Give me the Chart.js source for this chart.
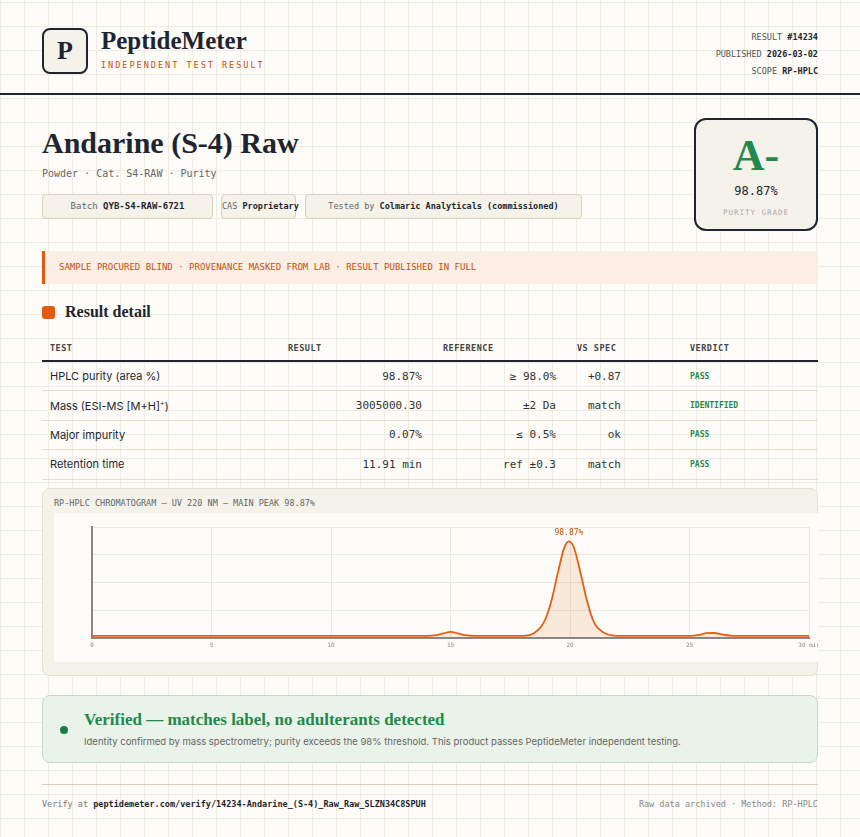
<!DOCTYPE html>
<html><head><meta charset="utf-8">
<script src="https://cdn.jsdelivr.net/npm/chart.js@4.4.1/dist/chart.umd.min.js"></script>
<style>
*{box-sizing:border-box;margin:0;padding:0}
body{width:860px;height:837px;overflow:hidden;background:#fdfcf8;position:relative;font-family:Inter,sans-serif;color:#1e2530;
background-image:linear-gradient(#efece4 1px,transparent 1px),linear-gradient(90deg,#efece4 1px,transparent 1px);background-size:24px 24px;background-position:0 2px}
.abs{position:absolute}
.mono{font-family:"DejaVu Sans Mono","Liberation Mono",monospace}
.serif{font-family:"Liberation Serif","DejaVu Serif",serif}
.logo{left:42px;top:28px;width:46px;height:46px;border:2px solid #1e2530;border-radius:8px;background:#f5f2ea;font-size:26px;font-weight:bold;text-align:center;line-height:42px}
.chip{top:194px;height:25px;border:1px solid #d9d0bd;border-radius:4px;background:#f5f2ea;font-size:9px;line-height:23px;color:#666;text-align:center;white-space:nowrap}
.chip b{color:#1e2530}
table{border-collapse:collapse;table-layout:fixed}
td,th{height:29.5px;border-bottom:1px solid #e4ddcc;font-size:11px}
th{font-family:"DejaVu Sans Mono",monospace;font-size:8.5px;color:#444;text-align:left;height:26px;border-bottom:2px solid #1e2530;letter-spacing:.5px}
td.n{text-align:right;font-family:"DejaVu Sans Mono",monospace;font-size:11px;color:#333;padding-right:6px}
td.v{font-family:"DejaVu Sans Mono",monospace;font-size:8px;font-weight:bold;color:#1f8a4c;padding-left:6px}
</style></head><body>
<div class="abs logo serif">P</div>
<div class="abs serif" style="left:101px;top:27px;font-size:25px;font-weight:bold">PeptideMeter</div>
<div class="abs mono" style="left:101px;top:60px;font-size:8.5px;letter-spacing:2px;color:#c2500e">INDEPENDENT TEST RESULT</div>
<div class="abs mono" style="right:42px;top:29px;font-size:8.5px;color:#555;text-align:right;line-height:17px">RESULT <b style="color:#1e2530">#14234</b><br>PUBLISHED <b style="color:#1e2530">2026-03-02</b><br>SCOPE <b style="color:#1e2530">RP-HPLC</b></div>
<div class="abs" style="left:0;top:93px;width:860px;height:2px;background:#1e2530"></div>

<div class="abs serif" style="left:42px;top:126px;font-size:30px;font-weight:bold">Andarine (S-4) Raw</div>
<div class="abs mono" style="left:42px;top:168px;font-size:10px;color:#666">Powder · Cat. S4-RAW · Purity</div>
<div class="abs chip mono" style="left:42px;width:171px">Batch <b>QYB-S4-RAW-6721</b></div>
<div class="abs chip mono" style="left:221px;width:75px;font-size:8.5px">CAS <b>Proprietary</b></div>
<div class="abs chip mono" style="left:305px;width:277px;font-size:8.5px">Tested by <b>Colmaric Analyticals (commissioned)</b></div>

<div class="abs" style="left:694px;top:118px;width:124px;height:113px;border:2px solid #1e2530;border-radius:12px;background:#f5f2ea;text-align:center">
 <div class="serif" style="font-size:44px;font-weight:bold;color:#1f8a4c;line-height:40px;margin-top:16px">A-</div>
 <div class="mono" style="font-size:12px;margin-top:8px">98.87%</div>
 <div class="mono" style="font-size:7.5px;color:#aaa;letter-spacing:1px;margin-top:10px">PURITY GRADE</div>
</div>

<div class="abs mono" style="left:42px;top:251px;width:776px;height:33px;background:#fbeee5;border-left:3px solid #e05a12;font-size:9px;color:#c2500e;line-height:33px;padding-left:14px">SAMPLE PROCURED BLIND · PROVENANCE MASKED FROM LAB · RESULT PUBLISHED IN FULL</div>

<div class="abs" style="left:42px;top:306px;width:13px;height:13px;border-radius:3px;background:#e05a12"></div>
<div class="abs serif" style="left:65px;top:303px;font-size:16px;font-weight:bold">Result detail</div>

<table class="abs" style="left:42px;top:335px;width:776px">
<colgroup><col style="width:198px"><col style="width:188px"><col style="width:134px"><col style="width:122px"><col></colgroup>
<tr><th style="padding-left:8px">TEST</th><th style="padding-left:48px">RESULT</th><th style="padding-left:15px">REFERENCE</th><th style="padding-left:15px">VS SPEC</th><th style="padding-left:6px">VERDICT</th></tr>
<tr><td style="padding-left:8px">HPLC purity (area %)</td><td class="n">98.87%</td><td class="n">≥ 98.0%</td><td class="n" style="padding-right:63px">+0.87</td><td class="v">PASS</td></tr>
<tr><td style="padding-left:8px">Mass (ESI-MS [M+H]<sup style="font-size:7px">+</sup>)</td><td class="n">3005000.30</td><td class="n">±2 Da</td><td class="n" style="padding-right:63px">match</td><td class="v">IDENTIFIED</td></tr>
<tr><td style="padding-left:8px">Major impurity</td><td class="n">0.07%</td><td class="n">≤ 0.5%</td><td class="n" style="padding-right:63px">ok</td><td class="v">PASS</td></tr>
<tr><td style="padding-left:8px">Retention time</td><td class="n">11.91 min</td><td class="n">ref ±0.3</td><td class="n" style="padding-right:63px">match</td><td class="v">PASS</td></tr>
</table>

<div class="abs" style="left:42px;top:488px;width:776px;height:188px;background:#f5f2ea;border:1px solid #e6e0d2;border-radius:8px"></div>
<div class="abs mono" style="left:54px;top:498px;font-size:8.5px;color:#666">RP-HPLC CHROMATOGRAM — UV 220 NM — MAIN PEAK 98.87%</div>
<div class="abs" style="left:54px;top:513px;width:764px;height:149px;background:#fdfcf8;overflow:hidden">
 <canvas id="grafico" width="770" height="149"></canvas>
</div>

<div class="abs" style="left:42px;top:695px;width:776px;height:68px;background:#eaf3ea;border:1px solid #bfdcc6;border-radius:8px"></div>
<div class="abs" style="left:60px;top:726px;width:8px;height:8px;border-radius:50%;background:#1a7a45"></div>
<div class="abs serif" style="left:84px;top:710px;font-size:17px;font-weight:bold;color:#1f8a4c">Verified — matches label, no adulterants detected</div>
<div class="abs" style="left:84px;top:736px;font-size:9.5px;color:#666">Identity confirmed by mass spectrometry; purity exceeds the 98% threshold. This product passes PeptideMeter independent testing.</div>

<div class="abs" style="left:42px;top:784px;width:776px;height:1px;background:#d9cdb5"></div>
<div class="abs mono" style="left:42px;top:799px;font-size:8.5px;color:#777">Verify at <b style="color:#1e2530">peptidemeter.com/verify/14234-Andarine_(S-4)_Raw_Raw_SLZN34C8SPUH</b></div>
<div class="abs mono" style="right:42px;top:799px;font-size:8.5px;color:#888">Raw data archived · Method: RP-HPLC</div>

<script>
// Datos del cromatograma (tiempo en min, señal en unidades relativas)
const tiempos = [0, 5, 10, 14, 14.4, 14.7, 15, 15.3, 15.6, 16, 18, 18.5, 18.9, 19.2, 19.5, 19.75, 19.95, 20.15, 20.4, 20.7, 21, 21.4, 22, 25, 25.4, 25.7, 26, 26.4, 26.8, 30];
const senal =   [2, 2, 2, 2, 2.6, 4.2, 5.6, 4.2, 2.6, 2, 2, 4.5, 14, 32, 60, 81, 87, 82, 62, 34, 14, 5, 2, 2, 2.8, 4.3, 4.5, 3, 2, 2];
const ticksX = [0, 5, 10, 15, 20, 25, 30];
const etiquetaPico = "98.87%";
const tiempoPico = 19.95;

const puntos = tiempos.map((t, i) => ({ x: t, y: senal[i] }));

const pluginEtiqueta = {
    id: 'etiquetaPico',
    afterDatasetsDraw(chart) {
        const { ctx, scales } = chart;
        const maxY = Math.max(...senal);
        ctx.save();
        ctx.font = '8px "DejaVu Sans Mono", monospace';
        ctx.fillStyle = '#c2500e';
        ctx.textAlign = 'center';
        ctx.fillText(etiquetaPico, scales.x.getPixelForValue(tiempoPico), scales.y.getPixelForValue(maxY) - 6);
        ctx.restore();
    }
};

new Chart(document.getElementById('grafico'), {
    type: 'line',
    data: {
        datasets: [{
            data: puntos,
            borderColor: '#e25f14',
            backgroundColor: 'rgba(226,95,20,0.12)',
            borderWidth: 1.8,
            fill: 'origin',
            tension: 0.4,
            cubicInterpolationMode: 'monotone',
            pointRadius: 0
        }]
    },
    options: {
        responsive: false,
        animation: false,
        layout: { padding: { left: 38, right: 0, top: 14, bottom: 0 } },
        plugins: { legend: { display: false }, tooltip: { enabled: false } },
        scales: {
            x: {
                type: 'linear', min: 0, max: 30,
                afterBuildTicks: (ax) => { ax.ticks = ticksX.map(v => ({ value: v })); },
                ticks: { font: { size: 6, family: 'DejaVu Sans Mono' }, color: '#888', padding: 4, maxRotation: 0,
                         callback: (v) => v === 30 ? '30 min' : v },
                afterFit: (ax) => { ax.height = 24; },
                grid: { color: '#ece8de', drawTicks: false },
                border: { color: '#888', width: 2 }
            },
            y: {
                min: 0, max: 100,
                ticks: { display: false, stepSize: 25 },
                grid: { color: '#ece8de', drawTicks: false },
                border: { color: '#888', width: 2 }
            }
        }
    },
    plugins: [pluginEtiqueta]
});
</script>
</body></html>
